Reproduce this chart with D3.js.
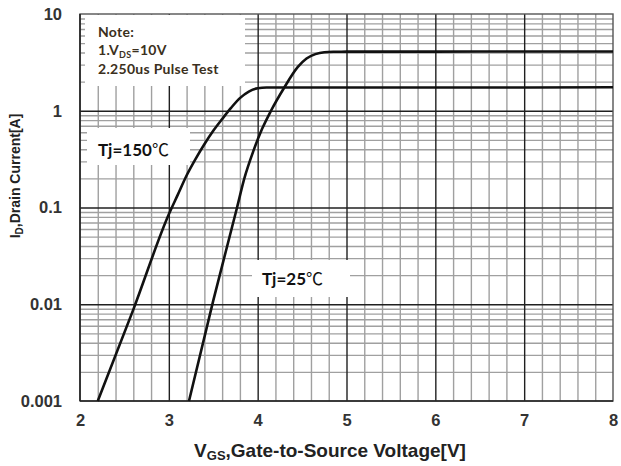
<!DOCTYPE html>
<html>
<head>
<meta charset="utf-8">
<script src="https://cdn.jsdelivr.net/npm/d3@7/dist/d3.min.js"></script>
<style>
  html, body { margin: 0; padding: 0; background: #fff; }
  svg { display: block; }
  .tick text { font-family: "Liberation Sans", Arial, sans-serif; font-weight: bold; font-size: 16.5px; fill: #333; }
</style>
</head>
<body>
<svg id="chart" width="621" height="466"></svg>
<script>
// Transfer characteristics: drain current vs gate-source voltage
const vgs150 = [2.2, 2.6, 3.0, 3.1, 3.2, 3.3, 3.4, 3.5, 3.6, 3.7, 3.8, 3.9, 4.0, 4.1, 5, 6, 7, 8];
const id150  = [0.001, 0.0088, 0.085, 0.135, 0.214, 0.316, 0.45, 0.62, 0.82, 1.07, 1.35, 1.58, 1.71, 1.74, 1.74, 1.74, 1.74, 1.75];

const vgs25 = [3.227, 3.5, 3.768, 3.85, 3.95, 4.05, 4.15, 4.3, 4.45, 4.55, 4.65, 4.75, 4.85, 5, 6, 7, 8];
const id25  = [0.001, 0.0109, 0.1, 0.2, 0.38, 0.65, 1.0, 1.74, 2.82, 3.47, 3.85, 4.03, 4.07, 4.08, 4.08, 4.1, 4.1];

const xTicks = [2, 3, 4, 5, 6, 7, 8];
const yTicks = [0.001, 0.01, 0.1, 1, 10];
const yTickLabels = ["0.001", "0.01", "0.1", "1", "10"];

const svg = d3.select("#chart");
const L = 80, R = 613, T = 14, B = 401;

const x = d3.scaleLinear().domain([2, 8]).range([L, R]);
const y = d3.scaleLog().domain([0.001, 10]).range([B, T]);

// minor / major grid values
const xMinor = d3.range(2.2, 8, 0.2).map(v => +v.toFixed(1)).filter(v => Math.abs(v - Math.round(v)) > 1e-6);
const xMajor = [3, 4, 5, 6, 7];
const yMinor = [];
[0.001, 0.01, 0.1, 1].forEach(d => { for (let k = 2; k <= 9; k++) yMinor.push(d * k); });
const yMajor = [0.01, 0.1, 1];

function grid(axisFn, scale, values, size, color, width, transform) {
  const g = svg.append("g").attr("transform", transform)
    .call(axisFn(scale).tickValues(values).tickSize(size).tickFormat(""));
  g.select(".domain").remove();
  g.selectAll("line").attr("stroke", color).attr("stroke-width", width);
  return g;
}

grid(d3.axisBottom, x, xMinor, -(B - T), "#a0a0a0", 1.4, `translate(0,${B})`);
grid(d3.axisLeft, y, yMinor, -(R - L), "#a0a0a0", 1.4, `translate(${L},0)`);
grid(d3.axisBottom, x, xMajor, -(B - T), "#202020", 1.4, `translate(0,${B})`);
grid(d3.axisLeft, y, yMajor, -(R - L), "#202020", 1.4, `translate(${L},0)`);

// white label panels over the grid
const panels = [
  [85, 15, 245, 86],
  [87, 128, 190, 165],
  [252, 260, 350, 297]
];
svg.selectAll("rect.panel").data(panels).enter().append("rect")
  .attr("class", "panel")
  .attr("x", d => d[0]).attr("y", d => d[1])
  .attr("width", d => d[2] - d[0]).attr("height", d => d[3] - d[1])
  .attr("fill", "#fff");

// plot frame
svg.append("rect").attr("x", L).attr("y", T).attr("width", R - L).attr("height", B - T)
  .attr("fill", "none").attr("stroke", "#555").attr("stroke-width", 1.4);
svg.append("line").attr("x1", L).attr("x2", L).attr("y1", T).attr("y2", B).attr("stroke", "#222").attr("stroke-width", 1.6);
svg.append("line").attr("x1", L).attr("x2", R).attr("y1", B).attr("y2", B).attr("stroke", "#222").attr("stroke-width", 1.6);

// axes labels
const xAxis = svg.append("g").attr("transform", `translate(0,${B})`)
  .call(d3.axisBottom(x).tickValues(xTicks).tickSize(0).tickPadding(13).tickFormat(d3.format("d")));
xAxis.select(".domain").remove();

const yAxis = svg.append("g").attr("transform", `translate(${L},0)`)
  .call(d3.axisLeft(y).tickValues(yTicks).tickSize(0).tickPadding(18)
    .tickFormat((d, i) => yTickLabels[i]));
yAxis.select(".domain").remove();

// curves
const line = d3.line().x(d => x(d[0])).y(d => y(d[1])).curve(d3.curveMonotoneX);
[[vgs150, id150], [vgs25, id25]].forEach(([vs, is]) => {
  svg.append("path")
    .datum(vs.map((v, i) => [v, is[i]]))
    .attr("d", line)
    .attr("fill", "none")
    .attr("stroke", "#111")
    .attr("stroke-width", 2.6)
    .attr("stroke-linejoin", "round");
});

// note text
const noteFont = "Lato, 'Open Sans', sans-serif";
const note = svg.append("g").attr("font-family", noteFont).attr("font-weight", "bold")
  .attr("font-size", 14).attr("letter-spacing", 0.3).attr("fill", "#3b3020");
note.append("text").attr("x", 98).attr("y", 37).text("Note:");
const n2 = note.append("text").attr("x", 98).attr("y", 55);
n2.append("tspan").text("1.V");
n2.append("tspan").attr("font-size", 9).attr("dy", 2.5).text("DS");
n2.append("tspan").attr("dy", -2.5).text("=10V");
note.append("text").attr("x", 98).attr("y", 74).text("2.250us Pulse Test");

// temperature labels
function tempLabel(px, py, t) {
  const tx = svg.append("text").attr("x", px).attr("y", py)
    .attr("font-family", noteFont).attr("font-weight", "bold").attr("font-size", 17).attr("fill", "#111");
  tx.append("tspan").text("Tj=" + t);
  tx.append("tspan").attr("font-family", "'Noto Sans CJK SC', sans-serif").attr("font-weight", "normal").text("℃");
}
tempLabel(98, 156, "150");
tempLabel(262, 285, "25");

// axis titles
const axisFont = "'Liberation Sans', Arial, sans-serif";
const xt = svg.append("text").attr("x", 330).attr("y", 457).attr("text-anchor", "middle")
  .attr("font-family", axisFont).attr("font-weight", "bold").attr("font-size", 19).attr("fill", "#222");
xt.append("tspan").text("V");
xt.append("tspan").attr("font-size", 13).attr("dy", 3).text("GS");
xt.append("tspan").attr("dy", -3).text(",Gate-to-Source Voltage[V]");

const yt = svg.append("text").attr("transform", "translate(20,176) rotate(-90)").attr("text-anchor", "middle")
  .attr("font-family", axisFont).attr("font-weight", "bold").attr("font-size", 14).attr("fill", "#222");
yt.append("tspan").text("I");
yt.append("tspan").attr("font-size", 10).attr("dy", 3).text("D");
yt.append("tspan").attr("dy", -3).text(",Drain Current[A]");
</script>
</body>
</html>
